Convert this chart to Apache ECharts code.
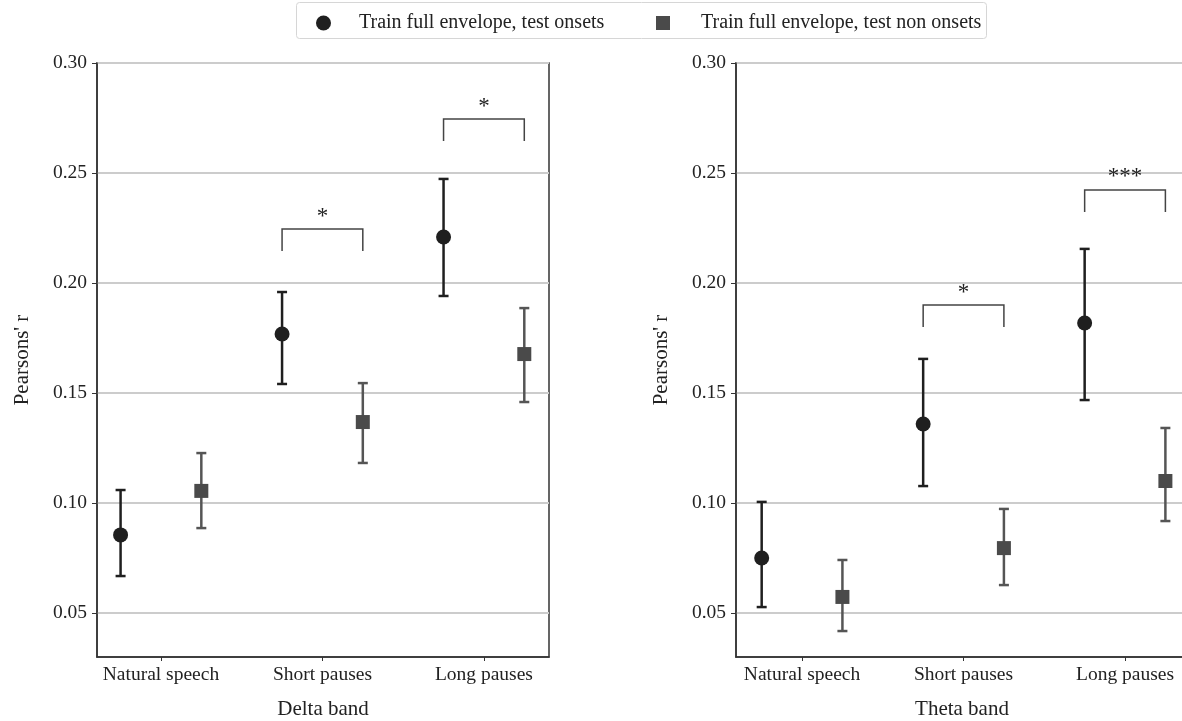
<!DOCTYPE html>
<html>
<head>
<meta charset="utf-8">
<script src="https://cdn.jsdelivr.net/npm/echarts@6/dist/echarts.min.js"></script>
<style>
  html, body { margin: 0; padding: 0; background: #ffffff; }
  #chart { width: 1182px; height: 721px; }
</style>
</head>
<body>
<div id="chart"></div>
<script>
// ---- data ----
const conditions = ['Natural speech', 'Short pauses', 'Long pauses'];
const panelNames = ['Delta band', 'Theta band'];
const seriesNames = ['Train full envelope, test onsets', 'Train full envelope, test non onsets'];
const yTicks = [0.05, 0.10, 0.15, 0.20, 0.25, 0.30];
const xTicks = [0, 1, 2];

// Delta band: mean and confidence interval per condition
const deltaOnsetMean = [0.0855, 0.1768, 0.2209];
const deltaOnsetLow = [0.0668, 0.1541, 0.1941];
const deltaOnsetHigh = [0.1059, 0.1959, 0.2473];
const deltaNonOnsetMean = [0.1055, 0.1368, 0.1677];
const deltaNonOnsetLow = [0.0886, 0.1182, 0.1459];
const deltaNonOnsetHigh = [0.1227, 0.1545, 0.1886];

// Theta band
const thetaOnsetMean = [0.0750, 0.1359, 0.1818];
const thetaOnsetLow = [0.0527, 0.1077, 0.1468];
const thetaOnsetHigh = [0.1005, 0.1655, 0.2155];
const thetaNonOnsetMean = [0.0573, 0.0795, 0.1100];
const thetaNonOnsetLow = [0.0418, 0.0627, 0.0918];
const thetaNonOnsetHigh = [0.0741, 0.0973, 0.1341];

// Significance brackets: condition index, bracket level, stars
const deltaBrackets = [[1, 0.2245, '*'], [2, 0.2745, '*']];
const thetaBrackets = [[1, 0.1900, '*'], [2, 0.2423, '***']];

// ---- styling ----
const FONT = 'Liberation Serif';
const TEXT = '#222222';
const SPINE = '#333333';
const ONSET_COLOR = '#1f1f1f';
const NONONSET_COLOR = '#4a4a4a';
const NONONSET_BAR = '#555555';
const OFFSET = 0.25;     // horizontal dodge of the two conditions
const BRACKET_DROP = 0.01;

const panels = [
  { onset: [deltaOnsetMean, deltaOnsetLow, deltaOnsetHigh],
    non: [deltaNonOnsetMean, deltaNonOnsetLow, deltaNonOnsetHigh],
    brackets: deltaBrackets, left: 97, xMin: -0.396, xMax: 2.403 },
  { onset: [thetaOnsetMean, thetaOnsetLow, thetaOnsetHigh],
    non: [thetaNonOnsetMean, thetaNonOnsetLow, thetaNonOnsetHigh],
    brackets: thetaBrackets, left: 736, xMin: -0.409, xMax: 2.390 }
];

function errorBarRenderer(color) {
  return function (params, api) {
    const x = api.value(0);
    const top = api.coord([x, api.value(2)]);
    const bot = api.coord([x, api.value(1)]);
    const half = 5;
    const style = { stroke: color, lineWidth: 2.5, fill: null };
    return {
      type: 'group',
      children: [
        { type: 'line', shape: { x1: top[0], y1: top[1], x2: bot[0], y2: bot[1] }, style: style },
        { type: 'line', shape: { x1: top[0] - half, y1: top[1], x2: top[0] + half, y2: top[1] }, style: style },
        { type: 'line', shape: { x1: bot[0] - half, y1: bot[1], x2: bot[0] + half, y2: bot[1] }, style: style }
      ]
    };
  };
}

function bracketRenderer(stars) {
  return function (params, api) {
    const a = api.coord([api.value(0), api.value(2)]);
    const b = api.coord([api.value(1), api.value(2)]);
    const aLow = api.coord([api.value(0), api.value(3)]);
    const bLow = api.coord([api.value(1), api.value(3)]);
    const style = { stroke: '#444444', lineWidth: 1.5, fill: null };
    return {
      type: 'group',
      children: [
        { type: 'polyline', shape: { points: [aLow, a, b, bLow] }, style: style },
        { type: 'text', x: (a[0] + b[0]) / 2, y: a[1] - 1,
          style: { text: stars[params.dataIndex], fontSize: 23, fontFamily: FONT, fill: TEXT,
                   align: 'center', verticalAlign: 'bottom' } }
      ]
    };
  };
}

const grids = [], xAxes = [], yAxes = [], series = [];

panels.forEach(function (p, i) {
  grids.push({ left: p.left, top: 63, width: 452, height: 594, show: true,
               outerBoundsMode: 'none', containLabel: false,
               borderColor: SPINE, borderWidth: 1.5, backgroundColor: 'transparent' });

  xAxes.push({
    gridIndex: i, type: 'value', min: p.xMin, max: p.xMax,
    name: panelNames[i], nameLocation: 'middle', nameGap: 42,
    nameTextStyle: { fontFamily: FONT, fontSize: 21, color: TEXT },
    axisLine: { show: true, onZero: false, lineStyle: { color: SPINE, width: 1.5 } },
    axisTick: { show: true, length: 4, customValues: xTicks, lineStyle: { color: SPINE } },
    axisLabel: { customValues: xTicks, formatter: function (v) { return conditions[Math.round(v)]; },
                 fontFamily: FONT, fontSize: 19.5, color: TEXT, margin: 8 },
    splitLine: { show: false }
  });

  yAxes.push({
    gridIndex: i, type: 'value', min: 0.03, max: 0.30,
    name: "Pearsons' r", nameLocation: 'middle', nameGap: 64,
    nameTextStyle: { fontFamily: FONT, fontSize: 21, color: TEXT },
    axisLine: { show: true, onZero: false, lineStyle: { color: SPINE, width: 1.5 } },
    axisTick: { show: true, length: 5, customValues: yTicks, lineStyle: { color: SPINE } },
    axisLabel: { customValues: yTicks, formatter: function (v) { return v.toFixed(2); },
                 fontFamily: FONT, fontSize: 19.5, color: TEXT, margin: 10 },
    splitLine: { show: true, lineStyle: { color: '#cccccc', width: 2 } }
  });

  const onsetBars = conditions.map(function (c, k) { return [k - OFFSET, p.onset[1][k], p.onset[2][k]]; });
  const nonBars = conditions.map(function (c, k) { return [k + OFFSET, p.non[1][k], p.non[2][k]]; });

  series.push({
    type: 'custom', xAxisIndex: i, yAxisIndex: i, z: 2, silent: true,
    renderItem: errorBarRenderer(ONSET_COLOR), encode: { x: 0, y: [1, 2] }, data: onsetBars
  });
  series.push({
    type: 'custom', xAxisIndex: i, yAxisIndex: i, z: 2, silent: true,
    renderItem: errorBarRenderer(NONONSET_BAR), encode: { x: 0, y: [1, 2] }, data: nonBars
  });
  series.push({
    name: seriesNames[0], type: 'scatter', xAxisIndex: i, yAxisIndex: i, z: 3,
    symbol: 'circle', symbolSize: 15, itemStyle: { color: ONSET_COLOR, opacity: 1 },
    data: conditions.map(function (c, k) { return [k - OFFSET, p.onset[0][k]]; })
  });
  series.push({
    name: seriesNames[1], type: 'scatter', xAxisIndex: i, yAxisIndex: i, z: 3,
    symbol: 'rect', symbolSize: 14, itemStyle: { color: NONONSET_COLOR, opacity: 1 },
    data: conditions.map(function (c, k) { return [k + OFFSET, p.non[0][k]]; })
  });
  series.push({
    type: 'custom', xAxisIndex: i, yAxisIndex: i, z: 2, silent: true,
    renderItem: bracketRenderer(p.brackets.map(function (b) { return b[2]; })),
    encode: { x: [0, 1], y: [2, 3] },
    data: p.brackets.map(function (b) { return [b[0] - OFFSET, b[0] + OFFSET, b[1], b[1] - BRACKET_DROP]; })
  });
});

const legendText = { fontFamily: FONT, fontSize: 20, color: TEXT };

const chart = echarts.init(document.getElementById('chart'), null, { renderer: 'canvas' });
chart.setOption({
  animation: false,
  backgroundColor: '#ffffff',
  textStyle: { fontFamily: FONT },
  graphic: [{
    type: 'rect', left: 296, top: 2, z: -1,
    shape: { width: 690, height: 36, r: 3 },
    style: { fill: '#ffffff', stroke: '#d6d6d6', lineWidth: 1 }
  }],
  legend: [
    { data: [{ name: seriesNames[0], icon: 'circle' }], left: 316, top: 13, padding: 0,
      itemWidth: 15, itemHeight: 15, selectedMode: false,
      textStyle: Object.assign({ padding: [0, 0, 0, 23] }, legendText) },
    { data: [{ name: seriesNames[1], icon: 'rect' }], left: 656, top: 13, padding: 0,
      itemWidth: 14, itemHeight: 14, selectedMode: false,
      textStyle: Object.assign({ padding: [0, 0, 0, 26] }, legendText) }
  ],
  grid: grids,
  xAxis: xAxes,
  yAxis: yAxes,
  series: series
});
</script>
</body>
</html>
